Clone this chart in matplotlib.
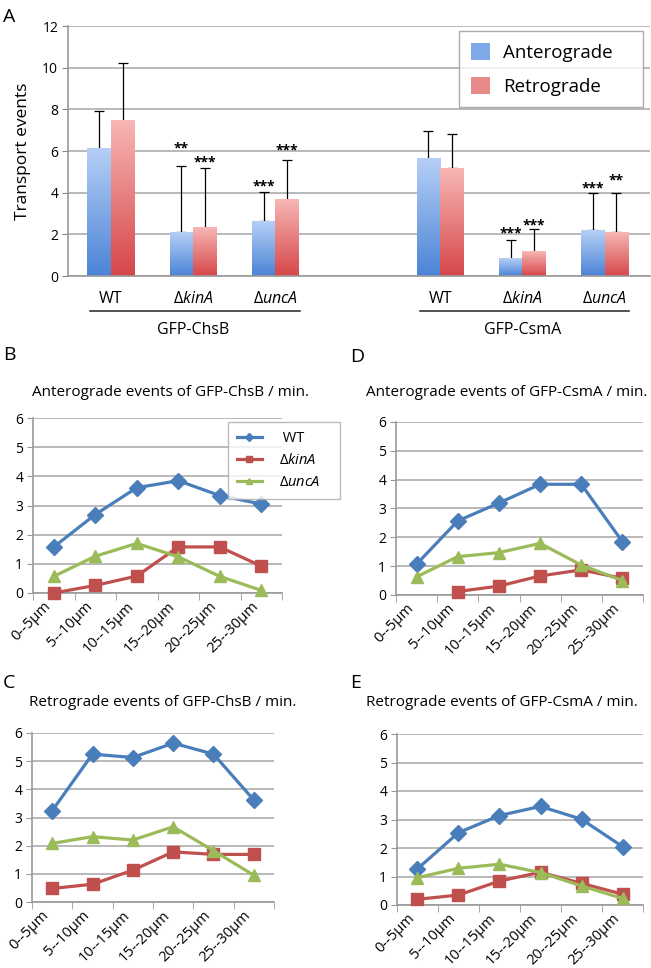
import numpy as np
import matplotlib
matplotlib.use("Agg")
from matplotlib import pyplot as plt
from matplotlib.colors import LinearSegmentedColormap
from matplotlib.patches import Patch
from matplotlib.lines import Line2D

plt.rcParams['font.family'] = ['Open Sans', 'DejaVu Sans']
plt.rcParams['mathtext.fontset'] = 'custom'
plt.rcParams['mathtext.rm'] = 'Open Sans'
plt.rcParams['mathtext.it'] = 'Open Sans:italic'

# ---- panel A data ----
strains = ['WT', 'Δ$\\mathit{kinA}$', 'Δ$\\mathit{uncA}$']
chsb_ant = [6.10, 2.09, 2.63]
chsb_ret = [7.46, 2.31, 3.67]
chsb_ant_err = [1.80, 3.18, 1.39]
chsb_ret_err = [2.77, 2.89, 1.88]
csma_ant = [5.64, 0.83, 2.20]
csma_ret = [5.18, 1.16, 2.09]
csma_ant_err = [1.32, 0.88, 1.78]
csma_ret_err = [1.66, 1.12, 1.89]
chsb_stars_ant = ['', '**', '***']
chsb_stars_ret = ['', '***', '***']
csma_stars_ant = ['', '***', '***']
csma_stars_ret = ['', '***', '**']

# ---- line panels data ----
bins = ['0--5µm', '5--10µm', '10--15µm', '15--20µm', '20--25µm', '25--30µm']
series_names = [' WT', 'Δ$\\mathit{kinA}$', 'Δ$\\mathit{uncA}$']

b_wt = [1.58, 2.69, 3.61, 3.85, 3.34, 3.05]
b_kin = [0.0, 0.26, 0.58, 1.58, 1.58, 0.92]
b_unc = [0.57, 1.26, 1.70, 1.24, 0.57, 0.09]

d_wt = [1.07, 2.57, 3.19, 3.84, 3.84, 1.85]
d_kin = [np.nan, 0.12, 0.31, 0.66, 0.87, 0.58]
d_unc = [0.63, 1.33, 1.47, 1.79, 1.04, 0.50]

c_wt = [3.24, 5.25, 5.13, 5.64, 5.25, 3.62]
c_kin = [0.48, 0.63, 1.13, 1.78, 1.69, 1.69]
c_unc = [2.08, 2.32, 2.20, 2.67, 1.82, 0.95]

e_wt = [1.27, 2.54, 3.14, 3.46, 3.01, 2.05]
e_kin = [0.20, 0.35, 0.84, 1.15, 0.76, 0.38]
e_unc = [0.96, 1.29, 1.43, 1.14, 0.67, 0.23]

W, H = 651, 968
fig = plt.figure(figsize=(W / 100, H / 100), dpi=100)


def box(l, t, r, b):
    return [l / W, 1 - b / H, (r - l) / W, (b - t) / H]


grid_c = '#b3b3b3'
blue_top, blue_bot = '#b5cff6', '#4c84d6'
red_top, red_bot = '#f7b6b4', '#d6474a'

# ================= panel A =================
ax = fig.add_axes(box(68, 26, 650, 276))
pos_chsb = np.array([0, 1, 2])
pos_csma = np.array([4, 5, 6])
bw = 0.285

grad = np.linspace(0, 1, 64).reshape(-1, 1)
cm_blue = LinearSegmentedColormap.from_list('b', [blue_bot, blue_top])
cm_red = LinearSegmentedColormap.from_list('r', [red_bot, red_top])


def grad_bars(xs, hs, errs, cmap, stars, star_off):
    for x, h, e, s, o in zip(xs, hs, errs, stars, star_off):
        ax.imshow(grad, extent=(x - bw / 2, x + bw / 2, 0, h), origin='lower',
                  cmap=cmap, aspect='auto', zorder=2, interpolation='bilinear')
        ax.errorbar(x, h, yerr=[[0], [e]], fmt='none', ecolor='black',
                    elinewidth=0.9, capsize=3.8, capthick=0.9, zorder=1.5)
        if s:
            ax.annotate(s, (x, h + e), xytext=(0, o), textcoords='offset points',
                        ha='center', va='center', fontsize=10, fontweight='bold')


grad_bars(pos_chsb - bw / 2, chsb_ant, chsb_ant_err, cm_blue, chsb_stars_ant, [0, 13, 4, 0])
grad_bars(pos_chsb + bw / 2, chsb_ret, chsb_ret_err, cm_red, chsb_stars_ret, [0, 4, 7, 0])
grad_bars(pos_csma - bw / 2, csma_ant, csma_ant_err, cm_blue, csma_stars_ant, [0, 5, 3, 0])
grad_bars(pos_csma + bw / 2, csma_ret, csma_ret_err, cm_red, csma_stars_ret, [0, 2, 9, 0])

ax.set_xlim(-0.52, 6.55)
ax.set_ylim(0, 12)
ax.set_yticks(range(0, 13, 2))
ax.yaxis.grid(True, color=grid_c, lw=1.3)
ax.set_axisbelow(True)
ax.set_xticks(list(pos_chsb) + list(pos_csma))
ax.set_xticklabels(strains + strains, fontsize=11.5)
ax.tick_params(axis='x', length=0, pad=11)
ax.tick_params(axis='y', length=4, color='#888888', labelsize=10, pad=3)
for sp in ['top', 'right']:
    ax.spines[sp].set_visible(False)
for sp in ['left', 'bottom']:
    ax.spines[sp].set_color('#999999')
    ax.spines[sp].set_linewidth(1.2)
ax.set_ylabel('Transport events', fontsize=12.5, labelpad=8)

tr = ax.get_xaxis_transform()
for p, name in [(pos_chsb, 'GFP-ChsB'), (pos_csma, 'GFP-CsmA')]:
    ax.plot([p.min() - 0.25, p.max() + 0.3], [-0.14, -0.14], transform=tr,
            color='#222222', lw=1.1, clip_on=False)
    ax.text(p.mean(), -0.215, name, transform=tr, ha='center', va='center', fontsize=11.5)

leg = ax.legend([Patch(facecolor='#7ea8e8', edgecolor='none'),
                 Patch(facecolor='#e88a88', edgecolor='none')],
                ['Anterograde', 'Retrograde'], loc='upper left', mode='expand',
                bbox_to_anchor=(459 / W, 1 - 101 / H, 184 / W, 70 / H),
                bbox_transform=fig.transFigure,
                fontsize=13.5, frameon=True, fancybox=False, edgecolor='#999999',
                handlelength=1.05, handleheight=1.05, labelspacing=0.8,
                borderpad=0.62, handletextpad=0.7, borderaxespad=0)
leg.get_frame().set_linewidth(1.0)

# ================= line panels =================
line_styles = [('#4a7ebb', 'D', 8), ('#c0504d', 's', 9), ('#9bbb59', '^', 9)]


def line_panel(rect, title, title_xy, series):
    a = fig.add_axes(box(*rect))
    x = np.arange(len(bins))
    for ys, (c, m, ms) in zip(series, line_styles):
        a.plot(x, ys, color=c, lw=2.3, marker=m, markersize=ms, clip_on=False, zorder=3)
    a.set_xlim(-0.5, len(bins) - 0.5)
    a.set_ylim(0, 6)
    a.set_yticks(range(7))
    a.yaxis.grid(True, color=grid_c, lw=1.3)
    a.set_axisbelow(True)
    a.set_xticks(x)
    a.set_xticklabels(bins, rotation=45, ha='right', fontsize=10.5)
    a.set_xticks(np.arange(-0.5, len(bins)), minor=True)
    a.tick_params(axis='x', which='major', length=0, pad=4)
    a.tick_params(axis='x', which='minor', length=5, color='#999999')
    a.tick_params(axis='y', length=4, color='#999999', labelsize=10, pad=3)
    for sp in ['top', 'right']:
        a.spines[sp].set_visible(False)
    for sp in ['left', 'bottom']:
        a.spines[sp].set_color('#999999')
        a.spines[sp].set_linewidth(1.2)
    fig.text(title_xy[0] / W, 1 - title_xy[1] / H, title, ha='center', va='center', fontsize=11)
    return a


ax_b = line_panel((33, 418, 282, 593), 'Anterograde events of GFP-ChsB / min.', (170, 392),
                  [b_wt, b_kin, b_unc])
line_panel((396, 422, 643, 595), 'Anterograde events of GFP-CsmA / min.', (507, 392),
           [d_wt, d_kin, d_unc])
line_panel((32, 733, 274, 902), 'Retrograde events of GFP-ChsB / min.', (163, 702),
           [c_wt, c_kin, c_unc])
line_panel((397, 734, 643, 905), 'Retrograde events of GFP-CsmA / min.', (502, 703),
           [e_wt, e_kin, e_unc])

handles = [Line2D([], [], color=c, lw=2.3, marker=m, markersize=4) for c, m, _ in line_styles]
leg2 = ax_b.legend(handles, series_names, loc='upper left', mode='expand',
                   bbox_to_anchor=(228 / W, 1 - 492 / H, 112 / W, 70 / H),
                   bbox_transform=fig.transFigure,
                   fontsize=10.5, frameon=True, fancybox=False, edgecolor='#aaaaaa',
                   handlelength=1.7, labelspacing=0.5, borderpad=0.6,
                   handletextpad=1.2, borderaxespad=0)
leg2.get_frame().set_linewidth(1.0)

# panel letters
for letter, (lx, ly) in {'A': (3, 17), 'B': (3, 355), 'D': (350, 357),
                         'C': (3, 683), 'E': (350, 683)}.items():
    fig.text(lx / W, 1 - ly / H, letter, ha='left', va='center', fontsize=14)

fig.savefig('out.png', dpi=100)
